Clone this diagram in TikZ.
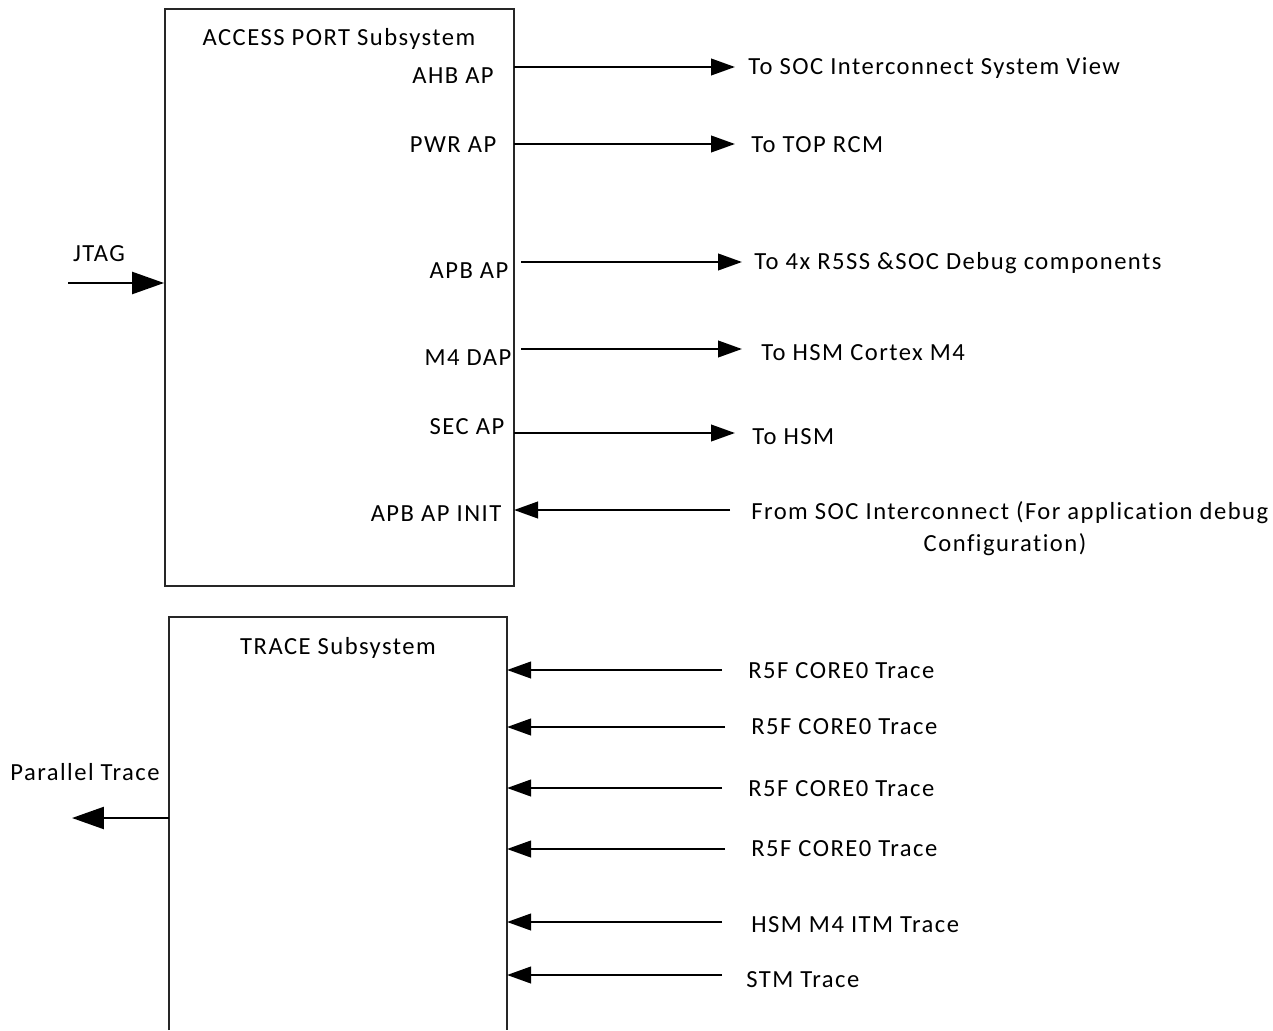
\documentclass[tikz,border=0pt]{standalone}
\usepackage{fontspec}
\setmainfont{Carlito}[LetterSpace=6,Ligatures=NoCommon]
\usetikzlibrary{arrows.meta,positioning}
\tikzset{
  subsys/.style={draw=black!85,line width=1.1pt},
  sig/.style={-{Triangle[length=4.8mm,width=3.3mm]},line width=1.4pt},
  bigsig/.style={sig,-{Triangle[length=6.4mm,width=4.4mm]}},
  lbl/.style={font=\fontsize{14}{16}\selectfont,inner sep=0pt},
}
\begin{document}
\begin{tikzpicture}[x=0.02cm,y=-0.02cm]
  \useasboundingbox (0,0) rectangle (1273,1030);
  % access port subsystem
  \node[subsys,minimum width=6.98cm,minimum height=11.54cm] (aps) at (339.5,297.5){};
  \node[lbl] (apstitle) at (339,39){ACCESS PORT Subsystem};
  % outgoing ports
  \foreach \n/\y/\xs/\xe/\xt/\ty/\p/\px/\py/\t in {
      ahb/67/514/735/748/68/AHB AP/453/76/To SOC Interconnect System View,
      pwr/144/514/735/751/145/PWR AP/453/145/To TOP RCM,
      apb/262/521/742/754/263/APB AP/469/271/To 4x R5SS \&SOC Debug components,
      mfour/349/521/742/761/353/M4 DAP/468/358/To HSM Cortex M4,
      sec/433/514/735/752/437/SEC AP/467/427/To HSM}{
    \node[lbl] (\n) at (\px,\py){\p};
    \coordinate (\n-out) at (\xs,\y);
    \coordinate (\n-end) at (\xe,\y);
    \node[lbl,anchor=west] (\n-dst) at (\xt,\ty){\t};
    \draw[sig] (\n-out) -- (\n-end);
  }
  % incoming init port
  \node[lbl] (init) at (436,514){APB AP INIT};
  \coordinate (init-src) at (730,510);
  \coordinate (init-in) at (514,510);
  \draw[sig] (init-src) -- (init-in);
  \node[lbl,anchor=west] (init-from) at (751,513){From SOC Interconnect (For application debug};
  \node[lbl] (init-from2) at (1005,545){Configuration)};
  % jtag
  \node[lbl] (jtag) at (99,254){JTAG};
  \coordinate (jtag-src) at (68,283);
  \draw[bigsig] (jtag-src) -- (aps.west |- jtag-src);

  % trace subsystem (runs off the bottom)
  \coordinate (tsbl) at (169,1030);
  \coordinate (tstl) at (169,617);
  \coordinate (tstr) at (507,617);
  \coordinate (tsbr) at (507,1030);
  \draw[subsys] (tsbl) -- (tstl) -- (tstr) -- (tsbr);
  \node[lbl] (tstitle) at (338,648){TRACE Subsystem};
  \foreach \n/\y/\xs/\xt/\ty/\t in {
      ra/670/722/748/671/R5F CORE0 Trace,
      rb/727/725/751/727/R5F CORE0 Trace,
      rc/788/722/748/789/R5F CORE0 Trace,
      rd/849/725/751/849/R5F CORE0 Trace,
      itm/922/722/751/925/HSM M4 ITM Trace,
      stm/975/722/746/980/STM Trace}{
    \coordinate (\n-src) at (\xs,\y);
    \coordinate (\n-in) at (507,\y);
    \node[lbl,anchor=west] (\n) at (\xt,\ty){\t};
    \draw[sig] (\n-src) -- (\n-in);
  }
  % parallel trace out
  \node[lbl] (ptrace) at (85,772){Parallel Trace};
  \coordinate (ptrace-out) at (169,818);
  \coordinate (ptrace-end) at (72,818);
  \draw[bigsig] (ptrace-out) -- (ptrace-end);
\end{tikzpicture}
\end{document}
